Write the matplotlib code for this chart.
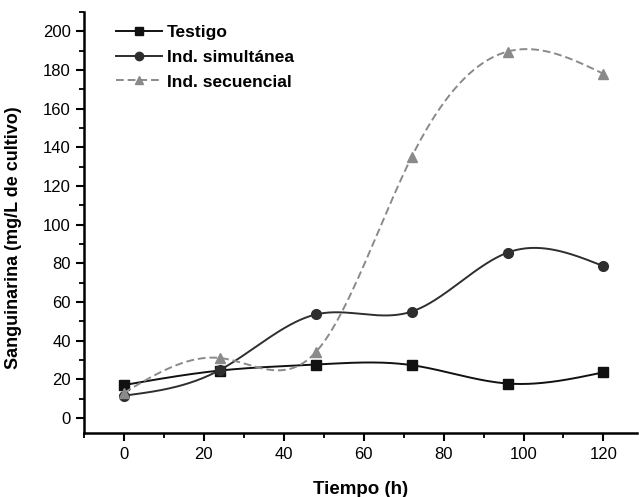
import numpy as np
import matplotlib.pyplot as plt
from matplotlib.ticker import MultipleLocator

plt.rcParams['font.family'] = ['Liberation Sans', 'DejaVu Sans']

# Datos
tiempo = [0, 24, 48, 72, 96, 120]
testigo = [17, 24.5, 27.6, 27.3, 17.8, 23.6]
simultanea = [11.5, 24.8, 53.5, 55, 85.5, 78.5]
secuencial = [13, 31, 34, 135, 189.5, 178]


def spline_natural(x, y, n=300):
    '''Spline cubico natural, como el suavizado de Origin.'''
    x = np.asarray(x, float)
    y = np.asarray(y, float)
    k = len(x)
    h = np.diff(x)
    A = np.zeros((k, k))
    b = np.zeros(k)
    A[0, 0] = A[-1, -1] = 1
    for i in range(1, k - 1):
        A[i, i - 1] = h[i - 1]
        A[i, i] = 2 * (h[i - 1] + h[i])
        A[i, i + 1] = h[i]
        b[i] = 6 * ((y[i + 1] - y[i]) / h[i] - (y[i] - y[i - 1]) / h[i - 1])
    M = np.linalg.solve(A, b)
    xs = np.linspace(x[0], x[-1], n)
    j = np.clip(np.searchsorted(x, xs) - 1, 0, k - 2)
    t0 = x[j + 1] - xs
    t1 = xs - x[j]
    hj = h[j]
    ys = (M[j] * t0 ** 3 + M[j + 1] * t1 ** 3) / (6 * hj) \
        + (y[j] / hj - M[j] * hj / 6) * t0 + (y[j + 1] / hj - M[j + 1] * hj / 6) * t1
    return xs, ys


fig = plt.figure(figsize=(6.39, 4.97), dpi=100)
ax = fig.add_axes([0.1315, 0.128, 0.866, 0.848])

series = [
    (testigo, 'Testigo', 's', '#111111', '-'),
    (simultanea, 'Ind. simult\u00e1nea', 'o', '#2e2e2e', '-'),
    (secuencial, 'Ind. secuencial', '^', '#8a8a8a', (0, (4, 2))),
]
for datos, nombre, marca, color, estilo in series:
    xs, ys = spline_natural(tiempo, datos)
    ax.plot(xs, ys, color=color, ls=estilo, lw=1.4)
    ax.plot(tiempo, datos, marca, color=color, ms=7)
    ax.plot([], [], color=color, ls=estilo, lw=1.4, marker=marca, ms=6, label=nombre)

ax.set_xlim(-10, 128.5)
ax.set_ylim(-8, 210)
ax.xaxis.set_minor_locator(MultipleLocator(10))
ax.yaxis.set_minor_locator(MultipleLocator(10))
ax.set_xticks(range(0, 121, 20))
ax.set_yticks(range(0, 201, 20))
ax.spines['top'].set_visible(False)
ax.spines['right'].set_visible(False)
ax.spines['left'].set_linewidth(1.8)
ax.spines['bottom'].set_linewidth(1.8)
ax.tick_params(which='major', direction='out', length=6, width=1.5, labelsize=12)
ax.tick_params(which='minor', direction='out', length=3.5, width=1.3)

ax.set_xlabel('Tiempo (h)', fontsize=13.5, fontweight='bold', labelpad=14)
ax.set_ylabel('Sanguinarina (mg/L de cultivo)', fontsize=13, fontweight='bold')
ax.yaxis.set_label_coords(-0.112, 0.464)

leg = ax.legend(loc='upper left', frameon=False, fontsize=12.5, handlelength=2.6,
                handletextpad=0.3, labelspacing=0.55, borderaxespad=0.35,
                bbox_to_anchor=(0.035, 1.0))
for t in leg.get_texts():
    t.set_fontweight('bold')

plt.savefig('out.png', dpi=100)
plt.close()
